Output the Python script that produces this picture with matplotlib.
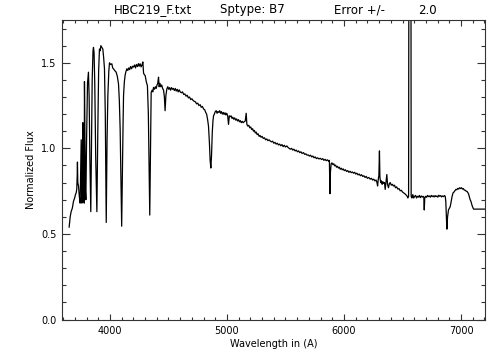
import matplotlib
matplotlib.use('Agg')
from matplotlib import pyplot as plt
from matplotlib.ticker import MultipleLocator

# spectrum (wavelength in A, normalized flux)
wave = [3651, 3660, 3668, 3678, 3688, 3698, 3705, 3711, 3716, 3720, 3722, 3725, 3731, 3738,
        3745, 3750, 3754, 3757, 3760, 3764, 3768, 3772, 3776, 3780, 3782, 3786, 3790, 3794,
        3800, 3808, 3816, 3822, 3828, 3836, 3842, 3848, 3855, 3859, 3864, 3870, 3878, 3888,
        3896, 3903, 3910, 3916, 3922, 3930, 3939, 3946, 3953, 3960, 3968, 3975, 3982, 3990,
        3996, 4005, 4016, 4023, 4030, 4040, 4053, 4063, 4073, 4080, 4087, 4094, 4100, 4106,
        4112, 4116, 4123, 4130, 4137, 4144, 4152, 4160, 4168, 4176, 4185, 4193, 4201, 4210,
        4218, 4226, 4235, 4243, 4250, 4258, 4266, 4275, 4281, 4287, 4294, 4301, 4310, 4320,
        4328, 4334, 4340, 4346, 4352, 4360, 4366, 4372, 4380, 4388, 4395, 4402, 4408, 4415,
        4420, 4427, 4434, 4442, 4450, 4458, 4465, 4471, 4478, 4486, 4494, 4502, 4510, 4518,
        4526, 4534, 4542, 4550, 4558, 4566, 4575, 4583, 4592, 4600, 4610, 4620, 4630, 4640,
        4650, 4660, 4670, 4680, 4690, 4700, 4710, 4720, 4730, 4740, 4750, 4760, 4771, 4780,
        4790, 4800, 4810, 4818, 4826, 4834, 4842, 4850, 4856, 4862, 4868, 4874, 4880, 4885,
        4892, 4900, 4908, 4915, 4922, 4930, 4937, 4945, 4952, 4960, 4968, 4975, 4983, 4990,
        4998, 5006, 5013, 5020, 5027, 5035, 5043, 5050, 5058, 5066, 5074, 5082, 5090, 5098,
        5106, 5114, 5122, 5130, 5138, 5146, 5156, 5164, 5170, 5178, 5186, 5195, 5203, 5211,
        5219, 5226, 5234, 5242, 5250, 5258, 5266, 5275, 5283, 5291, 5300, 5310, 5320, 5330,
        5340, 5350, 5360, 5369, 5380, 5390, 5400, 5410, 5420, 5430, 5440, 5450, 5460, 5470,
        5480, 5490, 5500, 5512, 5522, 5532, 5542, 5552, 5562, 5572, 5582, 5592, 5602, 5612,
        5622, 5632, 5642, 5654, 5664, 5674, 5684, 5694, 5704, 5714, 5724, 5734, 5744, 5754,
        5764, 5774, 5786, 5797, 5808, 5818, 5828, 5838, 5848, 5858, 5868, 5875, 5880, 5884,
        5890, 5897, 5905, 5913, 5920, 5928, 5936, 5944, 5952, 5960, 5968, 5976, 5985, 5993,
        6002, 6012, 6022, 6032, 6042, 6052, 6062, 6072, 6081, 6091, 6100, 6110, 6120, 6130,
        6140, 6150, 6160, 6170, 6180, 6190, 6200, 6212, 6224, 6234, 6244, 6254, 6264, 6274,
        6282, 6287, 6293, 6298, 6303, 6307, 6314, 6320, 6326, 6332, 6340, 6346, 6352, 6358,
        6366, 6372, 6380, 6388, 6395, 6404, 6413, 6422, 6431, 6440, 6450, 6460, 6470, 6480,
        6490, 6500, 6509, 6520, 6530, 6540, 6546, 6552, 6556, 6563, 6571, 6574, 6580, 6588,
        6596, 6604, 6612, 6620, 6628, 6636, 6644, 6652, 6660, 6668, 6676, 6682, 6686, 6690,
        6698, 6706, 6714, 6722, 6730, 6738, 6746, 6754, 6762, 6770, 6778, 6786, 6794, 6802,
        6810, 6818, 6826, 6834, 6842, 6850, 6858, 6865, 6870, 6875, 6879, 6885, 6893, 6900,
        6908, 6916, 6924, 6932, 6940, 6948, 6956, 6964, 6972, 6980, 6988, 6996, 7004, 7012,
        7020, 7028, 7036, 7044, 7052, 7060, 7064, 7070, 7078, 7085, 7095, 7107, 7205]

flux = [0.54, 0.60, 0.63, 0.65, 0.69, 0.71, 0.73, 0.74, 0.76, 0.84, 0.92, 0.80, 0.78, 0.72,
        0.68, 0.90, 1.05, 0.85, 0.68, 0.95, 1.15, 0.90, 0.70, 0.68, 1.39, 1.10, 0.75, 0.70,
        1.05, 1.38, 1.445, 1.30, 0.95, 0.63, 1.00, 1.40, 1.57, 1.59, 1.56, 1.38, 0.95, 0.63,
        1.10, 1.45, 1.58, 1.57, 1.60, 1.59, 1.58, 1.53, 1.465, 1.20, 0.567, 1.05, 1.31, 1.45,
        1.50, 1.49, 1.494, 1.47, 1.465, 1.455, 1.445, 1.42, 1.376, 1.28, 1.11, 0.80, 0.545, 0.85,
        1.15, 1.31, 1.39, 1.43, 1.45, 1.465, 1.455, 1.47, 1.46, 1.478, 1.465, 1.48, 1.475, 1.487,
        1.47, 1.49, 1.478, 1.495, 1.48, 1.494, 1.476, 1.49, 1.505, 1.44, 1.43, 1.425, 1.39, 1.366,
        1.20, 0.90, 0.61, 0.95, 1.327, 1.34, 1.33, 1.356, 1.345, 1.36, 1.35, 1.37, 1.38, 1.416,
        1.36, 1.38, 1.36, 1.37, 1.35, 1.34, 1.30, 1.22, 1.31, 1.347, 1.36, 1.345, 1.355, 1.34,
        1.355, 1.345, 1.35, 1.338, 1.35, 1.335, 1.345, 1.33, 1.342, 1.33, 1.325, 1.33, 1.315, 1.318,
        1.305, 1.31, 1.295, 1.30, 1.285, 1.29, 1.28, 1.275, 1.272, 1.26, 1.264, 1.25, 1.255, 1.24,
        1.245, 1.23, 1.225, 1.21, 1.20, 1.17, 1.13, 1.03, 0.93, 0.885, 0.96, 1.09, 1.16, 1.19,
        1.20, 1.215, 1.22, 1.205, 1.215, 1.21, 1.22, 1.205, 1.215, 1.20, 1.21, 1.198, 1.208, 1.195,
        1.205, 1.19, 1.14, 1.19, 1.185, 1.19, 1.175, 1.182, 1.17, 1.178, 1.165, 1.172, 1.16, 1.168,
        1.155, 1.162, 1.15, 1.158, 1.15, 1.155, 1.16, 1.205, 1.14, 1.13, 1.135, 1.12, 1.125, 1.11,
        1.115, 1.10, 1.105, 1.09, 1.095, 1.08, 1.085, 1.07, 1.075, 1.065, 1.07, 1.058, 1.062, 1.05,
        1.055, 1.045, 1.05, 1.043, 1.038, 1.042, 1.03, 1.035, 1.025, 1.03, 1.02, 1.025, 1.015, 1.022,
        1.01, 1.018, 1.008, 1.014, 1.005, 1.00, 0.995, 1.00, 0.99, 0.995, 0.985, 0.99, 0.98, 0.985,
        0.975, 0.98, 0.97, 0.975, 0.965, 0.968, 0.96, 0.962, 0.955, 0.96, 0.95, 0.955, 0.945, 0.95,
        0.94, 0.945, 0.938, 0.942, 0.935, 0.94, 0.93, 0.936, 0.928, 0.933, 0.925, 0.93, 0.735, 0.86,
        0.91, 0.915, 0.905, 0.91, 0.898, 0.902, 0.89, 0.895, 0.885, 0.89, 0.878, 0.884, 0.875, 0.88,
        0.87, 0.875, 0.865, 0.87, 0.86, 0.866, 0.858, 0.862, 0.855, 0.86, 0.85, 0.855, 0.845, 0.85,
        0.84, 0.846, 0.836, 0.84, 0.83, 0.836, 0.825, 0.83, 0.82, 0.825, 0.815, 0.82, 0.81, 0.815,
        0.80, 0.78, 0.82, 0.84, 0.985, 0.83, 0.80, 0.81, 0.79, 0.805, 0.795, 0.80, 0.76, 0.80,
        0.847, 0.79, 0.77, 0.795, 0.80, 0.785, 0.79, 0.78, 0.785, 0.77, 0.775, 0.762, 0.765, 0.752,
        0.755, 0.745, 0.74, 0.735, 0.728, 0.72, 0.71, 0.72, 3.0, 3.3, 3.0, 0.72, 0.71, 0.73,
        0.71, 0.72, 0.725, 0.71, 0.72, 0.715, 0.725, 0.712, 0.722, 0.715, 0.72, 0.715, 0.64, 0.71,
        0.72, 0.714, 0.725, 0.718, 0.722, 0.715, 0.725, 0.718, 0.723, 0.716, 0.724, 0.718, 0.722, 0.715,
        0.726, 0.72, 0.724, 0.716, 0.722, 0.718, 0.724, 0.72, 0.69, 0.60, 0.528, 0.60, 0.64, 0.65,
        0.66, 0.69, 0.72, 0.74, 0.745, 0.752, 0.76, 0.758, 0.766, 0.762, 0.77, 0.765, 0.77, 0.762,
        0.765, 0.756, 0.755, 0.75, 0.748, 0.74, 0.735, 0.72, 0.70, 0.69, 0.665, 0.645, 0.645]

title_parts = ['HBC219_F.txt', 'Sptype: B7', 'Error +/-', '2.0']
title_x = [153, 252, 359, 427]  # pixel centres across the top

fig = plt.figure(figsize=(5.04, 3.6), dpi=100)
ax = fig.add_axes([62 / 504, 1 - 319.5 / 360, (485 - 62) / 504, (319.5 - 20) / 360])

ax.plot(wave, flux, color='black', linewidth=0.9)

ax.set_xlim(3590, 7205)
ax.set_ylim(0, 1.75)
ax.xaxis.set_major_locator(MultipleLocator(1000))
ax.xaxis.set_minor_locator(MultipleLocator(100))
ax.yaxis.set_major_locator(MultipleLocator(0.5))
ax.yaxis.set_minor_locator(MultipleLocator(0.1))
ax.yaxis.set_major_formatter(plt.FormatStrFormatter('%.1f'))

ax.tick_params(axis='both', which='both', direction='in', top=True, right=True,
               labelsize=7, width=0.8, color='#333333')
ax.tick_params(axis='x', which='major', length=4.3, pad=5)
ax.tick_params(axis='x', which='minor', length=2.2)
ax.tick_params(axis='y', which='major', length=6, pad=4)
ax.tick_params(axis='y', which='minor', length=3)
for s in ax.spines.values():
    s.set_linewidth(0.8)
    s.set_color('#333333')

ax.set_xlabel('Wavelength in (A)', fontsize=7, labelpad=2)
ax.set_ylabel('Normalized Flux', fontsize=7, labelpad=4)

for t, x in zip(title_parts, title_x):
    fig.text(x / 504, 1 - 10 / 360, t, ha='center', va='center', fontsize=8.5)

fig.savefig('out.png', dpi=100)
